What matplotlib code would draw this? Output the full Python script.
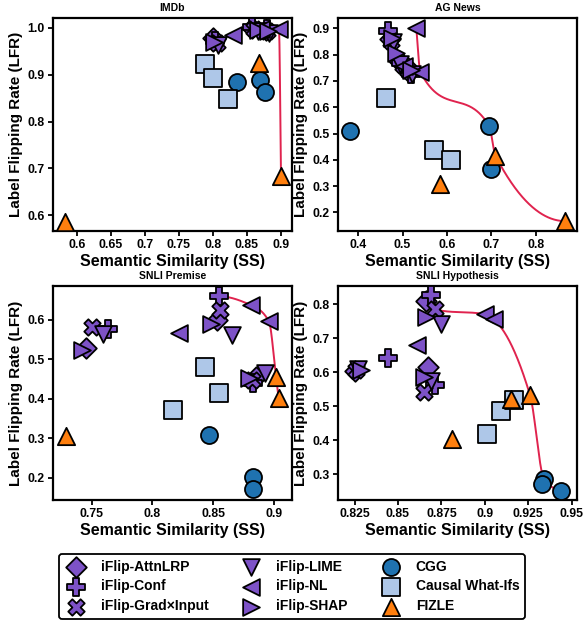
import matplotlib
matplotlib.use("Agg")
import matplotlib.pyplot as plt
import numpy as np
from matplotlib.ticker import MultipleLocator, FuncFormatter

plt.rcParams["font.family"] = ["Liberation Sans", "DejaVu Sans"]
plt.rcParams["font.weight"] = "bold"
plt.rcParams["axes.labelweight"] = "bold"
plt.rcParams["axes.titleweight"] = "bold"

METHODS = ["iFlip-AttnLRP", "iFlip-Conf", "iFlip-Grad×Input", "iFlip-LIME",
           "iFlip-NL", "iFlip-SHAP", "CGG", "Causal What-Ifs", "FIZLE"]

# semantic similarity (x) and label flipping rate (y), three runs per method
imdb_ss = {
    "iFlip-AttnLRP": [0.800, 0.858, 0.878], "iFlip-Conf": [0.803, 0.857, 0.880],
    "iFlip-Grad×Input": [0.806, 0.860, 0.879], "iFlip-LIME": [0.808, 0.866, 0.883],
    "iFlip-NL": [0.829, 0.871, 0.897], "iFlip-SHAP": [0.802, 0.866, 0.881],
    "CGG": [0.836, 0.869, 0.876], "Causal What-Ifs": [0.788, 0.800, 0.822],
    "FIZLE": [0.583, 0.900, 0.867],
}
imdb_lfr = {
    "iFlip-AttnLRP": [0.978, 1.000, 0.996], "iFlip-Conf": [0.972, 1.002, 0.997],
    "iFlip-Grad×Input": [0.968, 0.998, 0.994], "iFlip-LIME": [0.963, 0.993, 0.990],
    "iFlip-NL": [0.984, 0.998, 0.997], "iFlip-SHAP": [0.970, 0.996, 0.994],
    "CGG": [0.885, 0.889, 0.864], "Causal What-Ifs": [0.923, 0.892, 0.848],
    "FIZLE": [0.586, 0.684, 0.925],
}
ag_ss = {
    "iFlip-AttnLRP": [0.472, 0.492, 0.515], "iFlip-Conf": [0.467, 0.497, 0.520],
    "iFlip-Grad×Input": [0.474, 0.500, 0.512], "iFlip-LIME": [0.478, 0.494, 0.522],
    "iFlip-NL": [0.531, 0.503, 0.540], "iFlip-SHAP": [0.476, 0.485, 0.518],
    "CGG": [0.381, 0.695, 0.698], "Causal What-Ifs": [0.463, 0.571, 0.609],
    "FIZLE": [0.585, 0.709, 0.866],
}
ag_lfr = {
    "iFlip-AttnLRP": [0.858, 0.775, 0.735], "iFlip-Conf": [0.888, 0.770, 0.725],
    "iFlip-Grad×Input": [0.850, 0.760, 0.740], "iFlip-LIME": [0.848, 0.765, 0.728],
    "iFlip-NL": [0.902, 0.757, 0.735], "iFlip-SHAP": [0.862, 0.805, 0.742],
    "CGG": [0.510, 0.528, 0.365], "Causal What-Ifs": [0.637, 0.437, 0.401],
    "FIZLE": [0.308, 0.415, 0.167],
}
premise_ss = {
    "iFlip-AttnLRP": [0.745, 0.853, 0.885], "iFlip-Conf": [0.763, 0.855, 0.883],
    "iFlip-Grad×Input": [0.750, 0.856, 0.882], "iFlip-LIME": [0.759, 0.866, 0.893],
    "iFlip-NL": [0.822, 0.881, 0.896], "iFlip-SHAP": [0.742, 0.848, 0.880],
    "CGG": [0.847, 0.883, 0.883], "Causal What-Ifs": [0.843, 0.855, 0.817],
    "FIZLE": [0.729, 0.902, 0.904],
}
premise_lfr = {
    "iFlip-AttnLRP": [0.530, 0.600, 0.455], "iFlip-Conf": [0.578, 0.660, 0.440],
    "iFlip-Grad×Input": [0.581, 0.625, 0.448], "iFlip-LIME": [0.565, 0.563, 0.465],
    "iFlip-NL": [0.567, 0.638, 0.597], "iFlip-SHAP": [0.524, 0.590, 0.452],
    "CGG": [0.308, 0.202, 0.171], "Causal What-Ifs": [0.481, 0.414, 0.372],
    "FIZLE": [0.307, 0.455, 0.403],
}
hyp_ss = {
    "iFlip-AttnLRP": [0.825, 0.867, 0.866], "iFlip-Conf": [0.844, 0.871, 0.869],
    "iFlip-Grad×Input": [0.826, 0.865, 0.871], "iFlip-LIME": [0.827, 0.869, 0.875],
    "iFlip-NL": [0.861, 0.900, 0.905], "iFlip-SHAP": [0.829, 0.865, 0.866],
    "CGG": [0.934, 0.933, 0.944], "Causal What-Ifs": [0.901, 0.909, 0.917],
    "FIZLE": [0.881, 0.915, 0.926],
}
hyp_lfr = {
    "iFlip-AttnLRP": [0.603, 0.614, 0.808], "iFlip-Conf": [0.642, 0.564, 0.826],
    "iFlip-Grad×Input": [0.607, 0.543, 0.785], "iFlip-LIME": [0.610, 0.574, 0.742],
    "iFlip-NL": [0.681, 0.770, 0.755], "iFlip-SHAP": [0.608, 0.586, 0.762],
    "CGG": [0.287, 0.272, 0.252], "Causal What-Ifs": [0.420, 0.485, 0.518],
    "FIZLE": [0.405, 0.522, 0.532],
}

PURPLE = "#7d52c7"
STYLE = {
    "iFlip-AttnLRP": ("D", PURPLE, 110), "iFlip-Conf": ("P", PURPLE, 150),
    "iFlip-Grad×Input": ("X", PURPLE, 140), "iFlip-LIME": ("v", PURPLE, 145),
    "iFlip-NL": ("<", PURPLE, 145), "iFlip-SHAP": (">", PURPLE, 145),
    "CGG": ("o", "#1f72b0", 150), "Causal What-Ifs": ("s", "#aec7e8", 150),
    "FIZLE": ("^", "#ff7f0e", 155),
}


def pchip(x, y, xs):
    h = np.diff(x)
    d = np.diff(y) / h
    n = len(x)
    m = np.zeros(n)
    if n == 2:
        m[:] = d[0]
    else:
        for k in range(1, n - 1):
            if d[k - 1] * d[k] > 0:
                w1 = 2 * h[k] + h[k - 1]
                w2 = h[k] + 2 * h[k - 1]
                m[k] = (w1 + w2) / (w1 / d[k - 1] + w2 / d[k])

        def end(h0, h1, d0, d1):
            v = ((2 * h0 + h1) * d0 - h0 * d1) / (h0 + h1)
            if np.sign(v) != np.sign(d0):
                return 0.0
            if np.sign(d0) != np.sign(d1) and abs(v) > abs(3 * d0):
                return 3 * d0
            return v
        m[0] = end(h[0], h[1], d[0], d[1])
        m[-1] = end(h[-1], h[-2], d[-1], d[-2])
    idx = np.clip(np.searchsorted(x, xs) - 1, 0, n - 2)
    t = (xs - x[idx]) / h[idx]
    h00 = 2 * t**3 - 3 * t**2 + 1
    h10 = t**3 - 2 * t**2 + t
    h01 = -2 * t**3 + 3 * t**2
    h11 = t**3 - t**2
    return h00 * y[idx] + h10 * h[idx] * m[idx] + h01 * y[idx + 1] + h11 * h[idx] * m[idx + 1]


def pareto_front(xs, ys):
    order = np.argsort(-xs)
    best = -np.inf
    px, py = [], []
    for i in order:
        if ys[i] > best:
            px.append(xs[i]); py.append(ys[i]); best = ys[i]
    return np.array(px[::-1]), np.array(py[::-1])


def draw_panel(axis, ss, lfr, title, xlim, ylim, xstep):
    for name in METHODS:
        marker, color, size = STYLE[name]
        axis.scatter(ss[name], lfr[name], marker=marker, s=size, c=color,
                     edgecolors="black", linewidths=1.3, zorder=3, label=name)
    all_x = np.concatenate([ss[n] for n in METHODS])
    all_y = np.concatenate([lfr[n] for n in METHODS])
    fx, fy = pareto_front(all_x, all_y)
    grid = np.linspace(fx[0], fx[-1], 400)
    axis.plot(grid, pchip(fx, fy, grid), color="#e0234e", linewidth=1.4, zorder=2)
    axis.set_xlim(*xlim); axis.set_ylim(*ylim)
    axis.xaxis.set_major_locator(MultipleLocator(xstep))
    axis.yaxis.set_major_locator(MultipleLocator(0.1))
    axis.xaxis.set_major_formatter(FuncFormatter(lambda v, p: f"{v:g}"))
    axis.set_title(title, fontsize=7.5, pad=5)
    axis.set_xlabel("Semantic Similarity (SS)", fontsize=11.5, labelpad=2)
    axis.set_ylabel("Label Flipping Rate (LFR)", fontsize=11, labelpad=3)
    axis.tick_params(labelsize=8.8, width=1.3, length=3.5, pad=2.5)
    for spine in axis.spines.values():
        spine.set_linewidth(1.6)


figure = plt.figure(figsize=(5.84, 6.23), dpi=100)
ax_imdb = figure.add_axes([0.0908, 0.629, 0.409, 0.342])
ax_ag = figure.add_axes([0.5788, 0.629, 0.409, 0.342])
ax_pre = figure.add_axes([0.0908, 0.1974, 0.409, 0.3435])
ax_hyp = figure.add_axes([0.5788, 0.1974, 0.409, 0.3435])

draw_panel(ax_imdb, imdb_ss, imdb_lfr, "IMDb", (0.565, 0.916), (0.566, 1.021), 0.05)
draw_panel(ax_ag, ag_ss, ag_lfr, "AG News", (0.355, 0.892), (0.129, 0.939), 0.1)
draw_panel(ax_pre, premise_ss, premise_lfr, "SNLI Premise", (0.718, 0.915), (0.144, 0.686), 0.05)
draw_panel(ax_hyp, hyp_ss, hyp_lfr, "SNLI Hypothesis", (0.8155, 0.9529), (0.225, 0.853), 0.025)

handles, labels = ax_imdb.get_legend_handles_labels()
legend = figure.legend(handles, labels, loc="lower center", bbox_to_anchor=(0.5, 0.0),
                       ncol=3, fontsize=10, frameon=True, edgecolor="black",
                       handlelength=1.6, handletextpad=1.0, columnspacing=2.3,
                       labelspacing=0.42, borderpad=0.4, borderaxespad=0.3,
                       fancybox=True, framealpha=1)
legend.get_frame().set_linewidth(1.3)

figure.savefig("out.png", dpi=100)
plt.close(figure)
